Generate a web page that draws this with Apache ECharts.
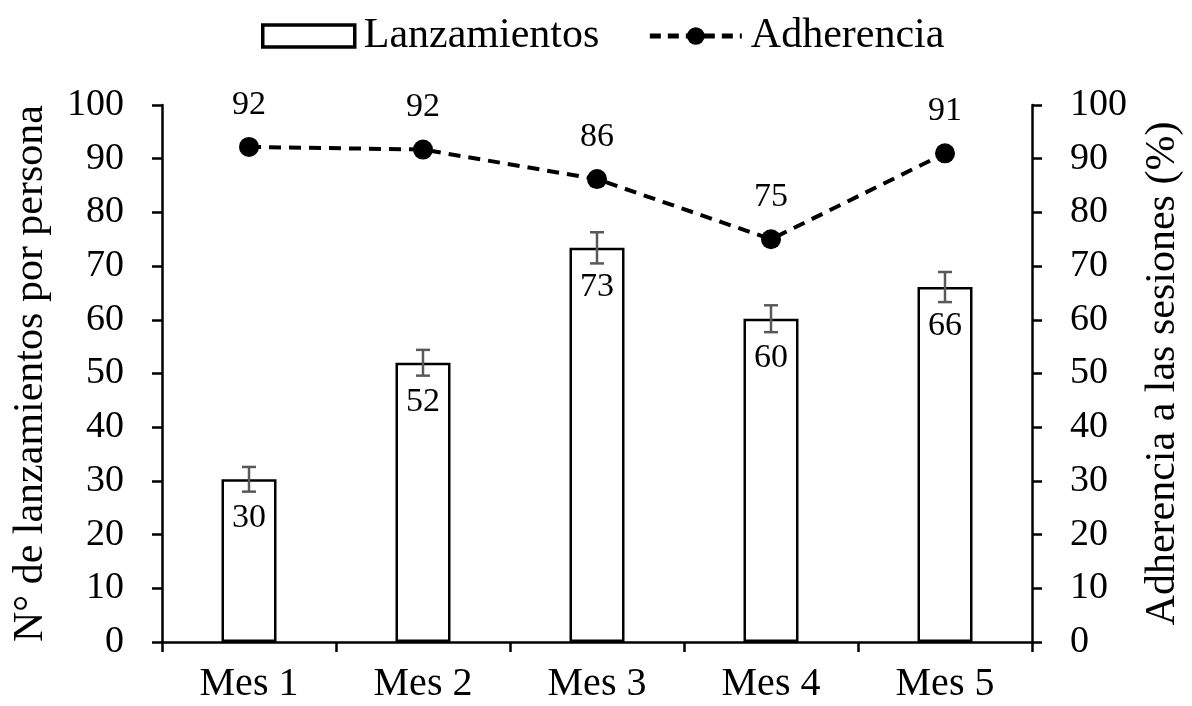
<!DOCTYPE html>
<html>
<head>
<meta charset="utf-8">
<script src="https://cdn.jsdelivr.net/npm/echarts@6/dist/echarts.min.js"></script>
<style>html,body{margin:0;padding:0;background:#fff;}#c{width:1192px;height:706px;}</style>
</head>
<body>
<div id="c"></div>
<script>
const categories = ['Mes 1', 'Mes 2', 'Mes 3', 'Mes 4', 'Mes 5'];
const lanzamientos = [30.3, 52.0, 73.4, 60.2, 66.1];
const lanzErr = [2.3, 2.4, 2.9, 2.5, 2.8];
const adherencia = [92.2, 91.7, 86.2, 75.0, 91.0];
const yTicks = [0, 10, 20, 30, 40, 50, 60, 70, 80, 90, 100];

const FONT = '"Liberation Serif", "Times New Roman", serif';
const errData = lanzamientos.map((v, i) => [i, v - lanzErr[i], v + lanzErr[i]]);

const chart = echarts.init(document.getElementById('c'));
const yAxisCommon = {
  type: 'value', min: yTicks[0], max: yTicks[yTicks.length - 1], interval: 10,
  nameLocation: 'middle', nameGap: 110, nameRotate: 90,
  nameTextStyle: { fontFamily: FONT, fontSize: 42, color: '#000' },
  axisLine: { show: true, lineStyle: { color: '#000', width: 2.5 } },
  axisTick: { show: true, length: 10, lineStyle: { color: '#000', width: 2.5 } },
  axisLabel: { fontFamily: FONT, fontSize: 38, color: '#000', margin: 38 },
  splitLine: { show: false }
};
chart.setOption({
  animation: false,
  backgroundColor: '#fff',
  textStyle: { fontFamily: FONT },
  legend: {
    top: 10, left: 256, itemGap: 48, itemWidth: 92, itemHeight: 22,
    textStyle: { fontFamily: FONT, fontSize: 42, color: '#000', padding: [0, 0, 0, 4] },
    data: [
      { name: 'Lanzamientos', icon: 'rect', itemStyle: { color: '#fff', borderColor: '#000', borderWidth: 3.5 } },
      { name: 'Adherencia', lineStyle: { color: '#000', width: 5, type: [11, 7] } }
    ]
  },
  grid: { left: 162, right: 159, top: 105, bottom: 64 },
  xAxis: {
    type: 'category', data: categories,
    axisLine: { lineStyle: { color: '#000', width: 2.5 } },
    axisTick: { show: true, length: 10, lineStyle: { color: '#000', width: 2.5 } },
    axisLabel: { fontFamily: FONT, fontSize: 40, color: '#000', margin: 22 }
  },
  yAxis: [
    Object.assign({}, yAxisCommon, { name: 'N° de lanzamientos por persona', position: 'left' }),
    Object.assign({}, yAxisCommon, { name: 'Adherencia a las sesiones (%)', position: 'right' })
  ],
  series: [
    {
      name: 'Lanzamientos', type: 'bar', data: lanzamientos, barWidth: 55, yAxisIndex: 0,
      itemStyle: { color: '#fff', borderColor: '#000', borderWidth: 2.5 },
      label: { show: true, position: 'insideTop', distance: 22, fontFamily: FONT, fontSize: 34, color: '#000',
        formatter: p => Math.round(p.value) }
    },
    {
      name: 'err', type: 'custom', yAxisIndex: 0, data: errData, z: 5,
      encode: { x: 0, y: [1, 2] },
      renderItem: function (params, api) {
        const lo = api.coord([api.value(0), api.value(1)]);
        const hi = api.coord([api.value(0), api.value(2)]);
        const hw = 7;
        const st = { stroke: '#595959', lineWidth: 2.5 };
        return { type: 'group', children: [
          { type: 'line', shape: { x1: lo[0], y1: lo[1], x2: hi[0], y2: hi[1] }, style: st },
          { type: 'line', shape: { x1: lo[0] - hw, y1: lo[1], x2: lo[0] + hw, y2: lo[1] }, style: st },
          { type: 'line', shape: { x1: hi[0] - hw, y1: hi[1], x2: hi[0] + hw, y2: hi[1] }, style: st }
        ]};
      }
    },
    {
      name: 'Adherencia', type: 'line', data: adherencia, yAxisIndex: 1, z: 10,
      symbol: 'circle', symbolSize: 20,
      lineStyle: { color: '#000', width: 4, type: [12, 8] },
      itemStyle: { color: '#000' },
      label: { show: true, position: 'top', distance: 15, fontFamily: FONT, fontSize: 34, color: '#000',
        formatter: p => Math.round(p.value) }
    }
  ]
});
</script>
</body>
</html>
